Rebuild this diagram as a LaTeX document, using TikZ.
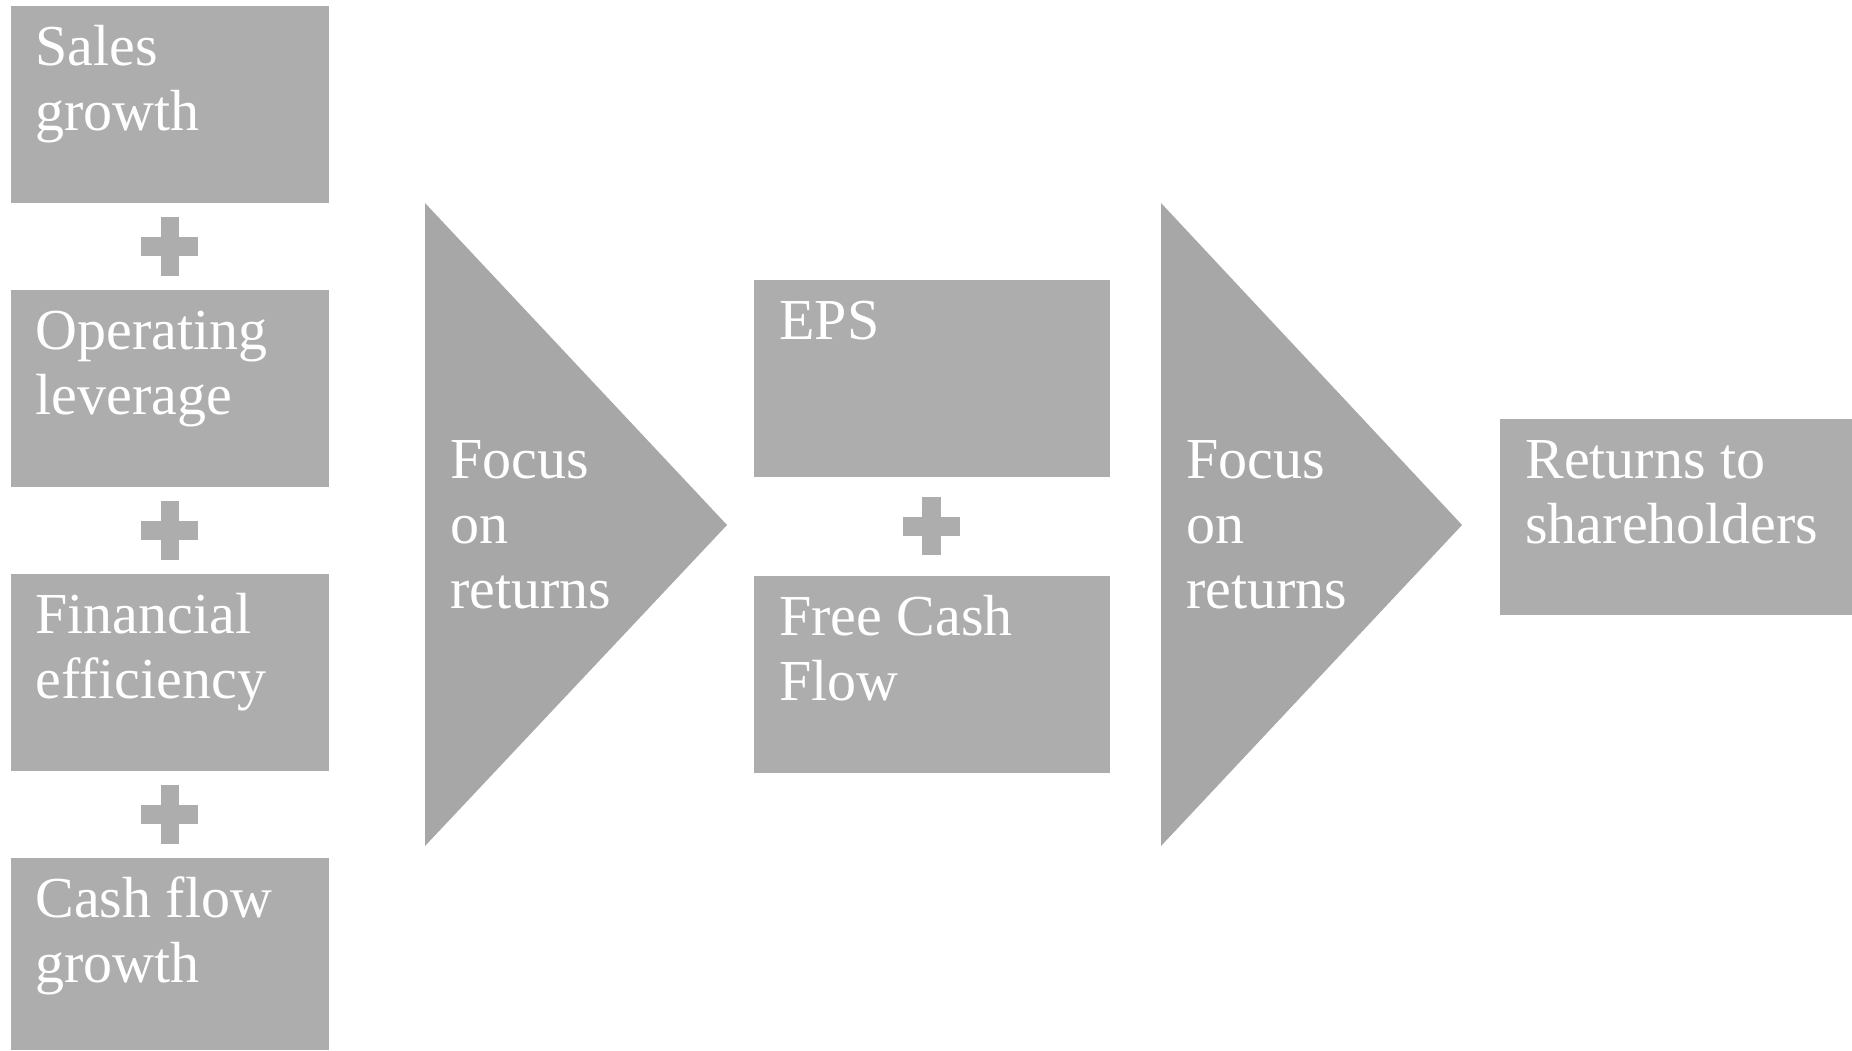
\documentclass[tikz,border=0pt]{standalone}
\usepackage{fontspec}
\setmainfont{Liberation Serif}
\definecolor{boxgray}{HTML}{ADADAD}
\definecolor{trigray}{HTML}{A7A7A7}
\begin{document}
\begin{tikzpicture}[x=0.5pt,y=-0.5pt,
  lbl/.style={anchor=base west, inner sep=0pt, text=white, align=left,
    font=\fontsize{29pt}{32.5pt}\selectfont},
  boxfill/.style={fill=boxgray},
  trifill/.style={fill=trigray}]
\useasboundingbox (0,0) rectangle (1852,1050);
\fill[white] (0,0) rectangle (1852,1050);
% left column boxes
\fill[boxfill] (11,6) rectangle (329,203);
\fill[boxfill] (11,290) rectangle (329,487);
\fill[boxfill] (11,574) rectangle (329,771);
\fill[boxfill] (11,858) rectangle (329,1050);
% pluses left column
\foreach \cy in {246.5,530.5,814.5}{
  \fill[boxfill] (161,\cy-29.5) rectangle (179,\cy+29.5);
  \fill[boxfill] (141,\cy-9.5) rectangle (198,\cy+9.5);
}
% triangles
\fill[trifill] (425,203) -- (727,525) -- (425,846) -- cycle;
\fill[trifill] (1161,203) -- (1462,525) -- (1161,846) -- cycle;
% middle boxes
\fill[boxfill] (754,280) rectangle (1110,477);
\fill[boxfill] (754,576) rectangle (1110,773);
\fill[boxfill] (922,497) rectangle (941,555);
\fill[boxfill] (903,517) rectangle (960,536);
% right box
\fill[boxfill] (1500,419) rectangle (1852,615);
% labels (anchored at the baseline of the last line)
\node[lbl] (t1) at (35,130) {Sales\\growth};
\node[lbl] (t2) at (35,414) {Operating\\leverage};
\node[lbl] (t3) at (35,698) {Financial\\efficiency};
\node[lbl] (t4) at (35,982) {Cash flow\\growth};
\node[lbl] (f1) at (450,608) {Focus\\on\\returns};
\node[lbl] (eps) at (779,339) {EPS};
\node[lbl] (fcf) at (779,700) {Free Cash\\Flow};
\node[lbl] (f2) at (1186,608) {Focus\\on\\returns};
\node[lbl] (ret) at (1525,543) {Returns to\\shareholders};
\end{tikzpicture}
\end{document}
